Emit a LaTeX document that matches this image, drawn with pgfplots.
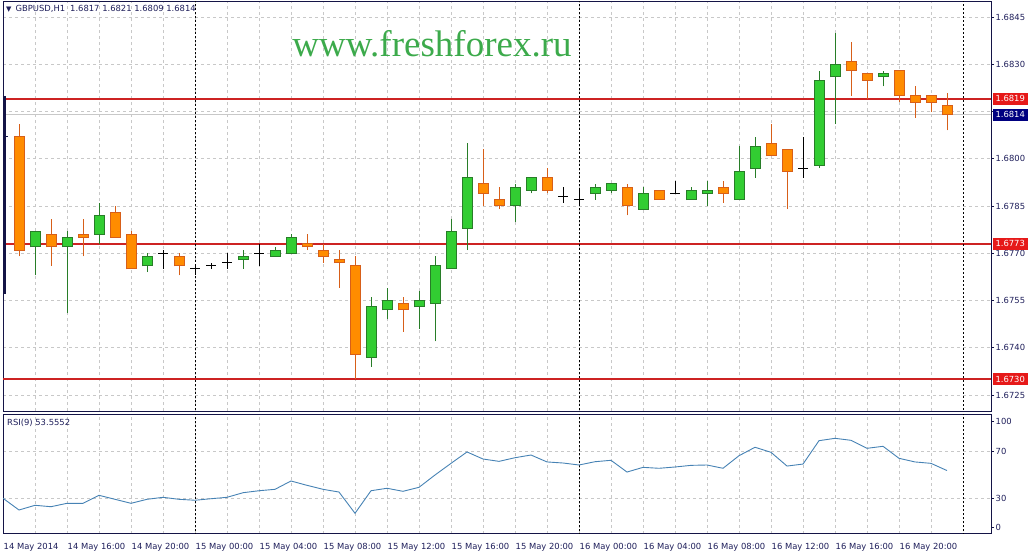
\documentclass[border=0pt]{standalone}
\usepackage{fontspec}
\setmainfont{DejaVu Sans}
\newfontfamily\wmfont{Liberation Serif}
\usepackage{pgfplots}
\pgfplotsset{compat=1.18}
\usepackage{pgfplotstable}

\definecolor{upfill}{RGB}{50,205,50}
\definecolor{upedge}{RGB}{40,125,40}
\definecolor{dnfill}{RGB}{255,140,0}
\definecolor{dnedge}{RGB}{215,95,25}
\definecolor{lvl}{RGB}{205,35,35}
\definecolor{lvlbox}{RGB}{230,25,25}
\definecolor{bidbox}{RGB}{0,0,128}
\definecolor{frame}{RGB}{20,20,70}
\definecolor{txt}{RGB}{30,30,90}
\definecolor{gridc}{RGB}{200,200,200}
\definecolor{rsic}{RGB}{70,130,180}
\definecolor{wm}{RGB}{60,170,75}

\pgfplotstableread{
h o hi lo c
14 1.6772 1.6777 1.6763 1.6777
16 1.6772 1.6777 1.6751 1.6775
18 1.6776 1.6786 1.6773 1.6782
21 1.6766 1.6770 1.6764 1.6769
27 1.6768 1.6771 1.6765 1.6769
29 1.6769 1.6772 1.6769 1.6771
30 1.6770 1.6776 1.6770 1.6775
35 1.6737 1.6756 1.6734 1.6753
36 1.6752 1.6759 1.6749 1.6755
38 1.6753 1.6758 1.6746 1.6755
39 1.6754 1.6769 1.6742 1.6766
40 1.6765 1.6781 1.6765 1.6777
41 1.6778 1.6805 1.6771 1.6794
44 1.6785 1.6792 1.6780 1.6791
45 1.6790 1.6794 1.6789 1.6794
49 1.6789 1.6792 1.6787 1.6791
50 1.6790 1.6792 1.6789 1.6792
52 1.6784 1.6791 1.6784 1.6789
55 1.6787 1.6791 1.6787 1.6790
56 1.6789 1.6793 1.6785 1.6790
58 1.6787 1.6804 1.6787 1.6796
59 1.6797 1.6807 1.6794 1.6804
63 1.6798 1.6828 1.6797 1.6825
64 1.6826 1.6840 1.6811 1.6830
67 1.6826 1.6828 1.6823 1.6827
}\up

\pgfplotstableread{
h o hi lo c
13 1.6807 1.6811 1.6769 1.6771
15 1.6776 1.6781 1.6766 1.6772
17 1.6776 1.6781 1.6769 1.6775
19 1.6783 1.6785 1.6775 1.6775
20 1.6776 1.6777 1.6765 1.6765
23 1.6769 1.6770 1.6763 1.6766
31 1.6773 1.6776 1.6771 1.6772
32 1.6771 1.6773 1.6767 1.6769
33 1.6768 1.6771 1.6759 1.6767
34 1.6766 1.6769 1.6730 1.6738
37 1.6754 1.6756 1.6745 1.6752
42 1.6792 1.6803 1.6785 1.6789
43 1.6787 1.6791 1.6784 1.6785
46 1.6794 1.6797 1.6789 1.6790
51 1.6791 1.6792 1.6782 1.6785
53 1.6790 1.6790 1.6787 1.6787
57 1.6791 1.6793 1.6786 1.6789
60 1.6805 1.6811 1.6801 1.6801
61 1.6803 1.6803 1.6784 1.6796
65 1.6831 1.6837 1.6820 1.6828
66 1.6827 1.6827 1.6819 1.6825
68 1.6828 1.6828 1.6818 1.6820
69 1.6820 1.6823 1.6813 1.6818
70 1.6820 1.6820 1.6815 1.6818
71 1.6817 1.6821 1.6809 1.6814
}\down

\pgfplotstableread{
h o hi lo c
22 1.6770 1.6771 1.6765 1.6770
24 1.6765 1.6766 1.6763 1.6765
25 1.6766 1.6767 1.6765 1.6766
26 1.6767 1.6770 1.6765 1.6767
28 1.6770 1.6773 1.6766 1.6770
47 1.6788 1.6791 1.6786 1.6788
48 1.6787 1.6790 1.6785 1.6787
54 1.6789 1.6793 1.6789 1.6789
62 1.6797 1.6807 1.6794 1.6797
}\doji

\pgfplotstableread{
h rsi
12 30.0
13 20.0
14 24.0
15 22.8
16 25.7
17 25.7
18 32.5
19 29.1
20 25.7
21 29.1
22 30.8
23 29.1
24 28.3
25 29.6
26 30.8
27 34.7
28 36.4
29 37.6
30 44.7
31 41.0
32 37.6
33 35.3
34 17.2
35 36.4
36 38.5
37 35.9
38 39.3
39 49.8
40 59.7
41 69.4
42 63.4
43 61.4
44 64.5
45 66.8
46 60.9
47 60.0
48 58.3
49 61.1
50 62.3
51 52.3
52 56.3
53 55.5
54 56.6
55 58.0
56 58.3
57 55.5
58 66.2
59 73.4
60 69.1
61 57.4
62 59.1
63 79.0
64 81.0
65 79.3
66 72.5
67 74.2
68 64.0
69 60.9
70 59.7
71 53.56
}\rsi

\newcommand{\lblfont}{\fontsize{8.4bp}{10bp}\selectfont}

\pgfplotsset{
  mt/.style={
    scale only axis, width=988bp, xmin=12, xmax=73.75,
    axis line style={frame, line width=1bp},
    clip mode=individual,
    tick align=outside, ytick pos=right, yticklabel pos=right,
    major tick length=3bp, minor tick length=0bp,
    tick style={frame, line width=0.8bp},
    xtick style={draw=none},
    grid style={gridc, line width=0.8bp, dash pattern=on 3bp off 3bp},
    minor grid style={gridc, line width=0.8bp, dash pattern=on 3bp off 3bp},
    xmajorgrids, xminorgrids, ymajorgrids,
    xtick={12,16,...,68}, minor xtick={14,18,...,70},
    ticklabel style={font=\lblfont, text=txt},
    yticklabel style={anchor=west, inner sep=1.5bp},
  },
  wick/.style={draw=none, mark=none, forget plot,
    error bars/.cd, y dir=plus, y explicit, error mark=none,
    error bar style={draw=#1, solid, line width=1bp}},
  body/.style 2 args={draw=none, mark=none, forget plot,
    error bars/.cd, y dir=plus, y explicit, error mark=none,
    error bar style={draw=#1, solid, line width=#2}},
  sep/.style={black, line width=0.9bp, dash pattern=on 2bp off 2bp, forget plot},
  lev/.style={color=lvl, solid, line width=1.6bp, forget plot},
}

\begin{document}
\begin{tikzpicture}
\useasboundingbox (0,0) rectangle (1033bp,-551bp);

% ---------------- main price panel ----------------
\begin{axis}[mt,
  at={(3bp,-1bp)}, anchor=north west, height=410bp,
  ymin=1.67199, ymax=1.68501,
  ytick={1.6725,1.6740,1.6755,1.6770,1.6785,1.6800,1.6815,1.6830,1.6845},
  yticklabels={1.6725,1.6740,1.6755,1.6770,1.6785,1.6800,,1.6830,1.6845},
  xticklabels={},
]
% levels (support / resistance and bid)
\addplot[lev] coordinates {(12,1.6773) (73.75,1.6773)};
\addplot[lev] coordinates {(12,1.6730) (73.75,1.6730)};
\addplot[lev] coordinates {(12,1.6819) (73.75,1.6819)};
\addplot[color=gridc, solid, line width=1bp, forget plot] coordinates {(12,1.6814) (73.75,1.6814)};
% day separators
\addplot[sep] coordinates {(24,1.67) (24,1.69)};
\addplot[sep] coordinates {(48,1.67) (48,1.69)};
\addplot[sep] coordinates {(72,1.67) (72,1.69)};
% partly hidden first bar
\addplot[frame, line width=2.5bp, forget plot] coordinates {(12.08,1.6757) (12.08,1.6820)};
\addplot[frame, line width=1bp, forget plot] coordinates {(12,1.6807) (12.32,1.6807)};
% wicks
\addplot[wick=upedge] table[x=h, y=lo, y error expr={\thisrow{hi}-\thisrow{lo}}] {\up};
\addplot[wick=dnedge] table[x=h, y=lo, y error expr={\thisrow{hi}-\thisrow{lo}}] {\down};
\addplot[wick=black] table[x=h, y=lo, y error expr={\thisrow{hi}-\thisrow{lo}}] {\doji};
% bodies
\addplot[body={upedge}{11bp}] table[x=h, y expr={\thisrow{o}-0.000016}, y error expr={\thisrow{c}-\thisrow{o}+0.000032}] {\up};
\addplot[body={upfill}{9bp}] table[x=h, y expr={\thisrow{o}+0.000016}, y error expr={\thisrow{c}-\thisrow{o}-0.000032}] {\up};
\addplot[body={dnedge}{11bp}] table[x=h, y expr={\thisrow{c}-0.000016}, y error expr={\thisrow{o}-\thisrow{c}+0.000032}] {\down};
\addplot[body={dnfill}{9bp}] table[x=h, y expr={\thisrow{c}+0.000016}, y error expr={\thisrow{o}-\thisrow{c}-0.000032}] {\down};
% doji horizontal
\addplot[draw=none, mark=none, forget plot,
  error bars/.cd, x dir=both, x fixed=0.32, error mark=none,
  error bar style={draw=black, solid, line width=1bp}]
  table[x=h, y=o] {\doji};
% price boxes
\node[fill=lvlbox, text=white, font=\lblfont, inner sep=0pt, minimum width=35bp, minimum height=12bp, anchor=west, xshift=1.5bp] at (axis cs:73.75,1.6819) {1.6819};
\node[fill=bidbox, text=white, font=\lblfont, inner sep=0pt, minimum width=35bp, minimum height=12bp, anchor=west, xshift=1.5bp] at (axis cs:73.75,1.6814) {1.6814};
\node[fill=lvlbox, text=white, font=\lblfont, inner sep=0pt, minimum width=35bp, minimum height=12bp, anchor=west, xshift=1.5bp] at (axis cs:73.75,1.6773) {1.6773};
\node[fill=lvlbox, text=white, font=\lblfont, inner sep=0pt, minimum width=35bp, minimum height=12bp, anchor=west, xshift=1.5bp] at (axis cs:73.75,1.6730) {1.6730};
\end{axis}

% ---------------- RSI panel ----------------
\begin{axis}[mt,
  at={(3bp,-414bp)}, anchor=north west, height=119.5bp,
  ymin=0, ymax=101.7,
  ytick={30,70}, yticklabels={30,70},
  extra y ticks={5.3,95.5}, extra y tick labels={0,100},
  extra y tick style={grid=none},
  xticklabels={14 May 2014,14 May 16:00,14 May 20:00,15 May 00:00,15 May 04:00,15 May 08:00,15 May 12:00,15 May 16:00,15 May 20:00,16 May 00:00,16 May 04:00,16 May 08:00,16 May 12:00,16 May 16:00,16 May 20:00},
  xticklabel style={anchor=north west, inner sep=0pt, yshift=-6.5bp, xshift=0.5bp},
]
\addplot[sep] coordinates {(24,-5) (24,110)};
\addplot[sep] coordinates {(48,-5) (48,110)};
\addplot[sep] coordinates {(72,-5) (72,110)};
\addplot[rsic, line width=0.9bp, mark=none] table[x=h, y=rsi] {\rsi};
\end{axis}

% texts
\node[anchor=west, font=\lblfont, text=txt, inner sep=0pt] at (6bp,-9bp) {{\fontsize{7bp}{8bp}\selectfont ▼}\hspace{4bp}GBPUSD,H1\hspace{5bp}1.6817 1.6821 1.6809 1.6814};
\node[anchor=west, font=\lblfont, text=txt, inner sep=0pt] at (7bp,-423bp) {RSI(9) 53.5552};
\node[font=\wmfont\fontsize{37bp}{40bp}\selectfont, text=wm, inner sep=0pt] at (432bp,-44bp) {www.freshforex.ru};
\end{tikzpicture}
\end{document}
